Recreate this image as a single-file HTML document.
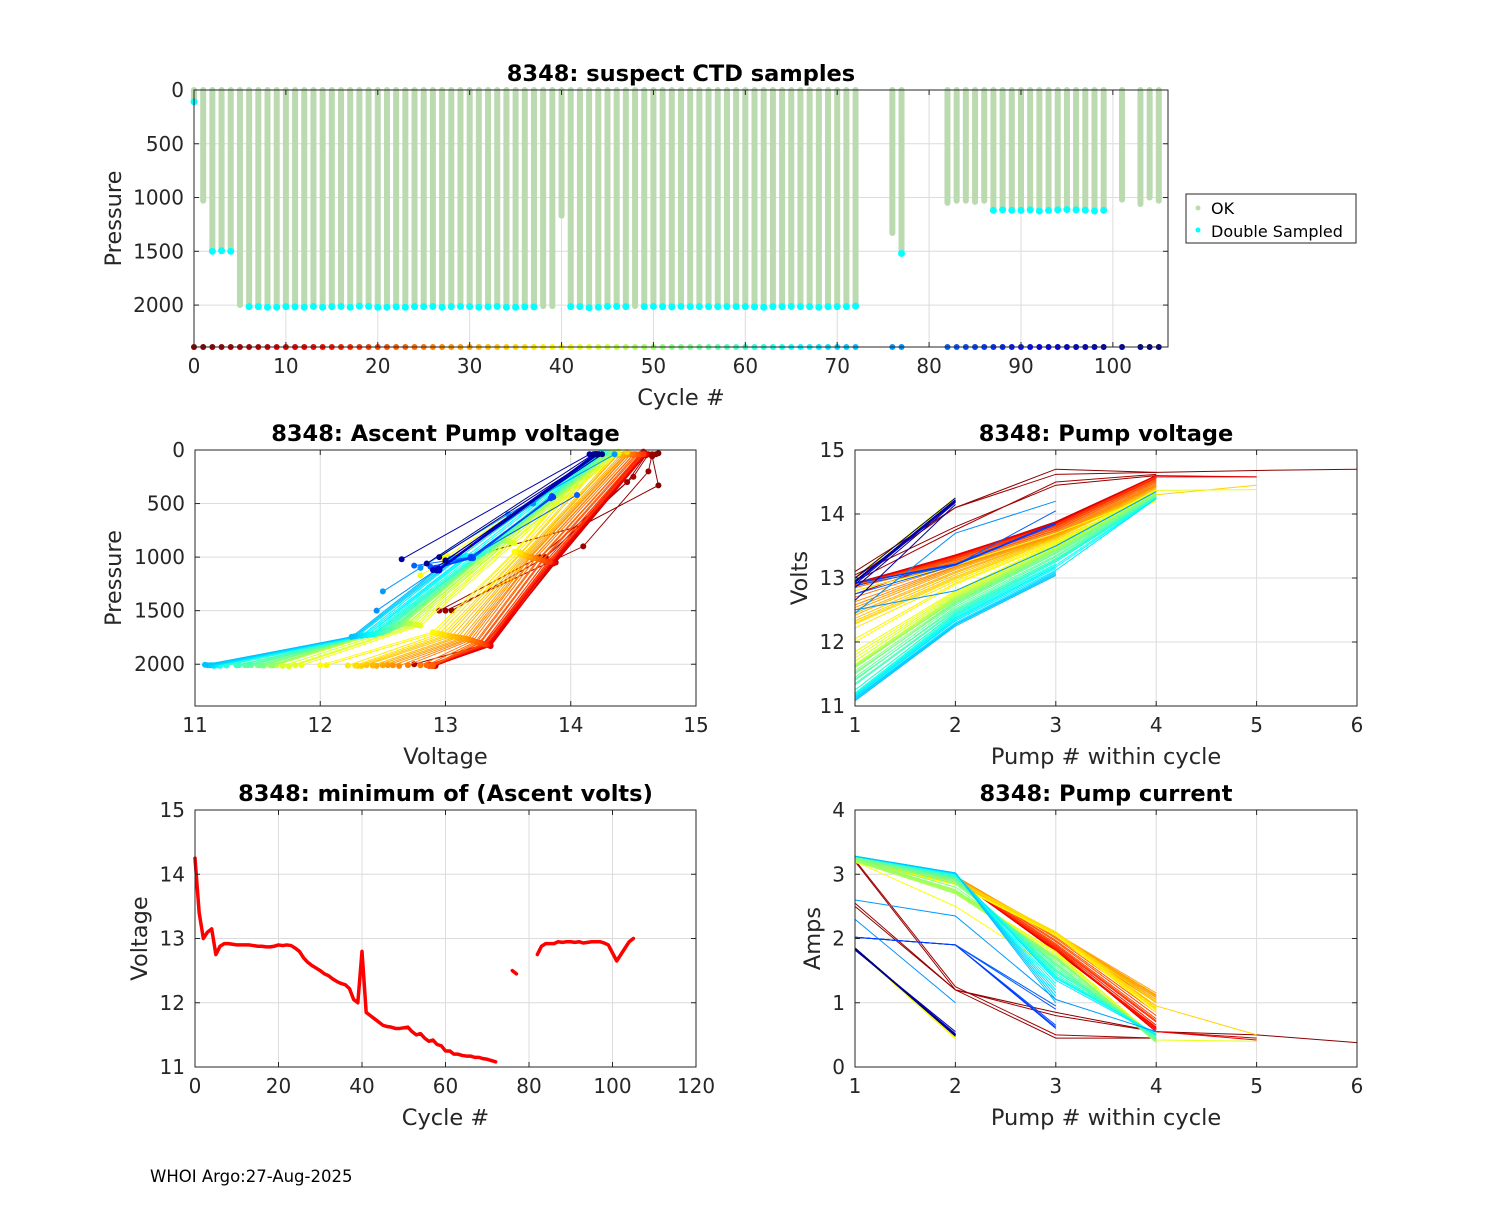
<!DOCTYPE html>
<html><head><meta charset="utf-8"><style>
html,body{margin:0;padding:0;background:#fff;}
svg text{font-family:"DejaVu Sans","Liberation Sans",sans-serif;fill:#262626;}
</style></head><body>
<svg id="fig" xmlns="http://www.w3.org/2000/svg" width="1500" height="1200" viewBox="0 0 1500 1200">
<rect x="0" y="0" width="1500" height="1200" fill="#fff"/>
<text x="150" y="1182" font-size="16.5" style="fill:#000">WHOI Argo:27-Aug-2025</text>
</svg>
<script>
// ---------- data ----------
const cycles=[0,1,2,3,4,5,6,7,8,9,10,11,12,13,14,15,16,17,18,19,20,21,22,23,24,25,26,27,28,29,30,31,32,33,34,35,36,37,38,39,40,41,42,43,44,45,46,47,48,49,50,51,52,53,54,55,56,57,58,59,60,61,62,63,64,65,66,67,68,69,70,71,72,76,77,82,83,84,85,86,87,88,89,90,91,92,93,94,95,96,97,98,99,101,103,104,105];
const maxPress=[110,1030,1500,1500,1500,2000,2010,2010,2015,2015,2010,2012,2015,2008,2015,2010,2008,2015,2005,2008,2015,2015,2012,2015,2010,2010,2008,2015,2010,2008,2010,2015,2012,2008,2015,2015,2012,2012,2010,2010,1170,2010,2010,2020,2015,2008,2008,2010,2010,2010,2008,2010,2012,2008,2010,2010,2010,2010,2010,2010,2010,2012,2015,2010,2010,2008,2010,2010,2015,2010,2010,2010,2005,1330,1520,1050,1030,1030,1040,1030,1120,1115,1120,1120,1115,1125,1120,1115,1112,1115,1118,1125,1120,1020,1060,1000,1030];
const dblPress=[110,null,1500,1495,1500,null,2015,2015,2020,2020,2015,2017,2020,2013,2020,2015,2013,2020,2010,2013,2020,2020,2017,2020,2015,2015,2013,2020,2015,2013,2015,2020,2017,2013,2020,2020,2017,2017,null,null,null,2015,2015,2025,2020,2013,2013,2015,null,2015,2013,2015,2017,2013,2015,2015,2015,2015,2015,2015,2015,2017,2020,2015,2015,2013,2015,2015,2020,2015,2015,2015,2010,null,1520,null,null,null,null,null,1120,1115,1120,1120,1115,1125,1120,1115,1112,1115,1118,1125,1120,null,null,null,null];
const minVolts=[14.25,13.4,13.0,13.1,13.15,12.75,12.88,12.92,12.92,12.91,12.9,12.9,12.9,12.9,12.89,12.88,12.88,12.87,12.87,12.88,12.9,12.89,12.9,12.89,12.85,12.8,12.7,12.63,12.58,12.54,12.5,12.45,12.42,12.37,12.33,12.3,12.28,12.22,12.05,12.0,12.8,11.85,11.8,11.75,11.7,11.65,11.63,11.62,11.6,11.6,11.61,11.62,11.55,11.5,11.52,11.45,11.4,11.42,11.35,11.33,11.25,11.25,11.2,11.2,11.18,11.17,11.17,11.15,11.15,11.13,11.12,11.1,11.08,12.5,12.45,12.75,12.88,12.92,12.92,12.92,12.95,12.94,12.95,12.95,12.94,12.95,12.93,12.94,12.95,12.95,12.95,12.93,12.9,12.65,12.85,12.95,13.0];
const pumpVolts=[
[13.0,14.25],[13.1,14.1,14.7,14.65,14.68,14.7],[13.05,13.8,14.45,14.6],[13.0,14.1,14.62,14.65],[12.95,13.75,14.5,14.62],
[12.75,13.3,13.85,14.58],[12.88,13.35,13.88,14.6],[12.92,13.36,13.86,14.6,14.58],[12.92,13.34,13.85,14.58],[12.91,13.35,13.87,14.6],
[12.9,13.33,13.84,14.57],[12.9,13.36,13.86,14.6],[12.9,13.35,13.85,14.58,14.58],[12.9,13.34,13.84,14.59],[12.89,13.33,13.83,14.57],
[12.88,13.32,13.82,14.56],[12.88,13.33,13.84,14.58],[12.87,13.3,13.8,14.55],[12.87,13.31,13.82,14.57],[12.88,13.32,13.83,14.58],
[12.9,13.3,13.8,14.55],[12.89,13.28,13.78,14.53],[12.9,13.27,13.77,14.52],[12.89,13.25,13.75,14.5],[12.85,13.24,13.74,14.5],
[12.8,13.22,13.72,14.48],[12.7,13.2,13.7,14.46],[12.63,13.18,13.7,14.45],[12.58,13.17,13.68,14.44],[12.54,13.15,13.67,14.43],
[12.5,13.13,13.66,14.42],[12.45,13.1,13.65,14.4],[12.42,13.08,13.64,14.38],[12.37,13.05,13.63,14.37],[12.33,13.02,13.62,14.35],
[12.3,13.0,13.6,14.3,14.45],[12.28,12.98,13.6,14.28],[12.22,12.95,13.58,14.25],[12.05,12.92,13.56,14.22],[12.0,12.9,13.55,14.2],
[12.8,13.2,13.7,14.3],[11.85,12.8,13.55,14.38],[11.8,12.78,13.53,14.37,14.38],[11.75,12.76,13.52,14.36],[11.7,12.74,13.5,14.35],
[11.65,12.72,13.5,14.35],[11.63,12.7,13.48,14.34],[11.62,12.7,13.47,14.33],[11.6,12.68,13.46,14.33],[11.6,12.67,13.45,14.32],
[11.61,12.66,13.44,14.32],[11.62,12.65,13.43,14.31],[11.55,12.63,13.42,14.3],[11.5,12.62,13.4,14.3],[11.52,12.6,13.4,14.3],
[11.45,12.58,13.38,14.28],[11.4,12.55,13.35,14.28],[11.42,12.52,13.33,14.27],[11.35,12.5,13.3,14.27],[11.33,12.48,13.3,14.26],
[11.25,12.46,13.28,14.26],[11.25,12.45,13.27,14.25],[11.2,12.43,13.25,14.25],[11.2,12.42,13.22],[11.18,12.4,13.2,14.25],
[11.17,12.38,13.18],[11.17,12.37,13.17,14.24],[11.15,12.35,13.15],[11.15,12.33,13.12,14.24],[11.13,12.3,13.1],
[11.12,12.28,13.08],[11.1,12.27,13.06],[11.08,12.25,13.04],[12.5,12.8,13.5,14.35],[12.45,13.7,14.2],
[12.75,13.2,14.05],[12.88,13.2,13.85],[12.92,13.22,13.85],[12.92,13.2,13.84],[12.92,13.21,13.86],
[12.95,14.2],[12.94,14.21],[12.95,14.2],[12.95,14.22],[12.94,14.2],[12.95,14.19],[12.93,14.2],[12.94,14.21],
[12.95,14.2],[12.95,14.22],[12.95,14.2],[12.93,14.19],[12.9,14.2],[12.65,14.15],[12.85,14.18],[12.95,14.22],[13.0,14.25]];
const pumpPress=[
[1000,50],[1030,700,330,60,40,30],[1500,1000,300,50],[1500,900,200,40],[1500,1000,250,40],
[2000,1820,1060,50],[2010,1820,1050,40],[2010,1830,1060,45,20],[2015,1820,1050,40],[2015,1825,1050,45],
[2010,1820,1040,40],[2012,1825,1050,35],[2015,1820,1050,40,15],[2008,1815,1045,40],[2015,1820,1050,45],
[2010,1815,1040,40],[2008,1820,1045,40],[2015,1810,1040,45],[2005,1815,1040,40],[2008,1815,1045,40],
[2015,1810,1040,40],[2015,1800,1030,45],[2012,1800,1030,40],[2015,1795,1020,45],[2010,1790,1020,40],
[2010,1780,1010,40],[2008,1775,1010,40],[2015,1770,1005,45],[2010,1765,1000,40],[2008,1760,1000,45],
[2010,1755,995,40],[2015,1750,990,45],[2012,1745,985,40],[2008,1740,980,45],[2015,1735,975,50],
[2015,1730,970,60,20],[2012,1720,960,55],[2012,1715,955,60],[2010,1710,950,55],[2010,1700,950,60],
[1170,900,500,40],[2010,1640,870,30],[2010,1635,865,30,15],[2020,1630,860,35],[2015,1625,855,30],
[2008,1620,850,30],[2008,1620,850,25],[2010,1615,845,30],[2010,1610,840,30],[2010,1610,840,25],
[2008,1620,850,30],[2010,1625,855,30],[2012,1630,860,30],[2008,1640,870,30],[2010,1650,880,30],
[2010,1660,900,30],[2010,1680,930,25],[2010,1690,940,30],[2010,1700,950,25],[2010,1705,960,30],
[2010,1710,970,30],[2012,1715,975,25],[2015,1720,980,30],[2010,1720,990],[2010,1725,985,30],
[2008,1725,995],[2010,1730,990,25],[2010,1730,1000],[2015,1735,995,30],[2010,1735,1005],
[2010,1740,1010],[2010,1740,1010],[2005,1745,1015],[1320,1100,600,40],[1500,500,40],
[1080,1000,420],[1090,1000,440],[1100,1010,430],[1110,1010,450],[1100,1000,440],
[1120,40],[1115,40],[1120,40],[1120,40],[1115,40],[1125,40],[1120,40],[1115,40],
[1112,40],[1115,40],[1118,40],[1125,40],[1120,40],[1020,40],[1060,40],[1000,40],[1030,40]];
const pumpAmps=[
[1.85,0.45],[2.5,1.2,0.85,0.55,0.5,0.38],[3.2,1.2,0.45,0.45],[2.55,1.2,0.8,0.55],[3.22,1.25,0.5,0.45],
[3.25,2.95,1.85,0.55],[3.25,2.95,1.8,0.6],[3.24,2.94,1.85,0.55,0.45],[3.25,2.95,1.82,0.58],[3.24,2.93,1.8,0.6],
[3.25,2.95,1.85,0.55],[3.24,2.94,1.83,0.6],[3.25,2.95,1.85,0.55,0.42],[3.24,2.93,1.82,0.62],[3.25,2.94,1.84,0.58],
[3.24,2.95,1.86,0.65],[3.25,2.95,1.84,0.6],[3.24,2.93,1.88,0.7],[3.25,2.94,1.86,0.65],[3.24,2.95,1.9,0.72],
[3.25,2.95,1.92,0.75],[3.24,2.96,1.95,0.8],[3.25,2.96,1.97,0.85],[3.24,2.97,2.0,0.9],[3.25,2.97,2.02,0.95],
[3.25,2.97,2.05,1.0],[3.24,2.96,2.05,1.05],[3.25,2.97,2.06,1.1],[3.24,2.96,2.07,1.12],[3.25,2.95,2.05,1.08],
[3.24,2.95,2.08,1.15],[3.25,2.94,2.06,1.1],[3.24,2.93,2.07,1.05],[3.23,2.92,2.08,1.02],[3.22,2.92,2.1,1.0],
[3.2,2.9,2.1,0.95,0.5],[3.2,2.88,2.1,0.92],[3.2,2.86,2.08,0.9],[3.19,2.85,2.06,0.88],[3.18,2.84,2.05,0.85],
[3.2,2.5,1.5,0.45],[3.22,2.75,1.8,0.45],[3.22,2.74,1.78,0.42,0.4],[3.21,2.73,1.75,0.45],[3.2,2.72,1.72,0.42],
[3.2,2.7,1.7,0.4],[3.22,2.7,1.68,0.45],[3.21,2.72,1.72,0.42],[3.2,2.7,1.7,0.38],[3.21,2.72,1.7,0.4],
[3.22,2.74,1.72,0.42],[3.23,2.76,1.7,0.4],[3.24,2.8,1.68,0.45],[3.25,2.85,1.65,0.42],[3.26,2.88,1.62,0.4],
[3.27,2.9,1.6,0.45],[3.27,2.92,1.58,0.42],[3.28,2.94,1.55,0.45],[3.28,2.95,1.52,0.48],[3.28,2.96,1.5,0.45],
[3.28,2.97,1.48,0.5],[3.28,2.98,1.45,0.48],[3.28,2.99,1.42,0.5],[3.28,3.0,1.3],[3.28,3.0,1.4,0.5],
[3.28,3.0,1.25],[3.28,3.0,1.38,0.52],[3.28,3.01,1.2],[3.28,3.01,1.35,0.5],[3.28,3.02,1.15],
[3.28,3.02,1.1],[3.28,3.02,1.05],[3.28,3.02,1.0],[2.6,2.35,1.05,0.55],[2.3,1.0],
[2.02,1.9,0.95],[2.02,1.9,0.9],[2.02,1.9,0.65],[2.02,1.9,0.6],[2.02,1.9,0.62],
[1.85,0.5],[1.84,0.5],[1.85,0.48],[1.83,0.52],[1.85,0.5],[1.84,0.49],[1.85,0.5],[1.83,0.5],
[1.85,0.51],[1.84,0.5],[1.85,0.48],[1.83,0.5],[1.84,0.5],[1.82,0.55],[1.85,0.5],[1.84,0.48],[1.85,0.5]];
const pressTicks=[0,500,1000,1500,2000];
const cycleTicks=[0,10,20,30,40,50,60,70,80,90,100];
const voltTicks=[11,12,13,14,15];
const pumpTicks=[1,2,3,4,5,6];
const cycleTicks2=[0,20,40,60,80,100,120];
const ampTicks=[0,1,2,3,4];

// ---------- helpers ----------
const NS='http://www.w3.org/2000/svg';
const svg=document.getElementById('fig');
function el(tag,attrs,parent){const e=document.createElementNS(NS,tag);for(const k in attrs)e.setAttribute(k,attrs[k]);(parent||svg).appendChild(e);return e;}
function jet(c){const t=1-c/105;const f=v=>Math.max(0,Math.min(1,v));
 const r=f(1.5-Math.abs(4*t-3)),g=f(1.5-Math.abs(4*t-2)),b=f(1.5-Math.abs(4*t-1));
 return 'rgb('+Math.round(r*255)+','+Math.round(g*255)+','+Math.round(b*255)+')';}
function makeAxes(o){
 const g=el('g',{});
 const sx=v=>o.L+(v-o.x0)/(o.x1-o.x0)*(o.R-o.L);
 const sy=o.rev?(v=>o.T+(v-o.y0)/(o.y1-o.y0)*(o.B-o.T)):(v=>o.B-(v-o.y0)/(o.y1-o.y0)*(o.B-o.T));
 const grid=el('g',{},g);
 o.xt.forEach(v=>{const x=sx(v);el('line',{x1:x,x2:x,y1:o.T,y2:o.B,stroke:'#dcdcdc','stroke-width':1},grid);});
 o.yt.forEach(v=>{const y=sy(v);el('line',{x1:o.L,x2:o.R,y1:y,y2:y,stroke:'#dcdcdc','stroke-width':1},grid);});
 const plot=el('g',{},g);
 const frame=el('g',{},g);
 el('rect',{x:o.L,y:o.T,width:o.R-o.L,height:o.B-o.T,fill:'none',stroke:'#262626','stroke-width':1},frame);
 o.xt.forEach(v=>{const x=sx(v);
  el('line',{x1:x,x2:x,y1:o.B,y2:o.B-5,stroke:'#262626'},frame);el('line',{x1:x,x2:x,y1:o.T,y2:o.T+5,stroke:'#262626'},frame);
  const t=el('text',{x:x,y:o.B+26,'font-size':20,'text-anchor':'middle'},frame);t.textContent=v;
  });
 o.yt.forEach(v=>{const y=sy(v);
  el('line',{x1:o.L,x2:o.L+5,y1:y,y2:y,stroke:'#262626'},frame);el('line',{x1:o.R,x2:o.R-5,y1:y,y2:y,stroke:'#262626'},frame);
  const t=el('text',{x:o.L-10,y:y+7,'font-size':20,'text-anchor':'end'},frame);t.textContent=v;
  });
 const tt=el('text',{x:(o.L+o.R)/2,y:o.T-9,'font-size':22.5,'font-weight':'bold','text-anchor':'middle',style:'fill:#000'},g);
 tt.textContent=o.title;
 const xl=el('text',{x:(o.L+o.R)/2,y:o.B+58,'font-size':22.5,'text-anchor':'middle'},g);
 xl.textContent=o.xl;
 const yx=o.ylx;const yc=(o.T+o.B)/2;
 const yl=el('text',{x:yx,y:yc,'font-size':22.5,'text-anchor':'middle',transform:'rotate(-90 '+yx+' '+yc+')'},g);
 yl.textContent=o.yl;
 return {sx,sy,plot};}

// ---------- top: suspect CTD samples ----------
const A1=makeAxes({name:'suspect-ctd-chart',L:194,R:1168,T:90,B:347,x0:0,x1:106,y0:0,y1:2390,rev:true,xt:cycleTicks,yt:pressTicks,title:'8348: suspect CTD samples',xl:'Cycle #',yl:'Pressure',ylx:121});
cycles.forEach((c,i)=>{const x=A1.sx(c);
 const b=el('line',{x1:x,x2:x,y1:A1.sy(0),y2:A1.sy(maxPress[i]),stroke:'#bbdab0','stroke-width':6,'stroke-linecap':'round'},A1.plot);
 });
cycles.forEach((c,i)=>{const x=A1.sx(c);
 if(dblPress[i]!==null){const d=el('circle',{cx:x,cy:A1.sy(dblPress[i]),r:3.5,fill:'#00ffff'},A1.plot);
  }
 const m=el('circle',{cx:x,cy:347,r:3,fill:jet(c)},A1.plot);
 });
const lg=el('g',{});
el('rect',{x:1186,y:194,width:170,height:49,fill:'#fff',stroke:'#262626'},lg);
el('circle',{cx:1198,cy:208,r:2.5,fill:'#bbdab0'},lg);
el('circle',{cx:1198,cy:230,r:2.5,fill:'#00ffff'},lg);
const l1=el('text',{x:1211,y:214,'font-size':16,style:'fill:#000'},lg);l1.textContent='OK';

const l2=el('text',{x:1211,y:237,'font-size':16,style:'fill:#000'},lg);l2.textContent='Double Sampled';


// ---------- ascent pump voltage ----------
const A2=makeAxes({name:'ascent-pump-voltage-chart',L:195,R:696,T:450,B:706,x0:11,x1:15,y0:0,y1:2390,rev:true,xt:voltTicks,yt:pressTicks,title:'8348: Ascent Pump voltage',xl:'Voltage',yl:'Pressure',ylx:121});
cycles.forEach((c,i)=>{const col=c===0?'#ffff00':jet(c);
 const pts=pumpVolts[i].map((v,k)=>A2.sx(v)+','+A2.sy(pumpPress[i][k])).join(' ');
 const pl=el('polyline',{points:pts,fill:'none',stroke:col,'stroke-width':1},A2.plot);
 
 pumpVolts[i].forEach((v,k)=>{const p=el('circle',{cx:A2.sx(v),cy:A2.sy(pumpPress[i][k]),r:c===0?5:3,fill:col},A2.plot);
  });});

// ---------- pump voltage ----------
const A3=makeAxes({name:'pump-voltage-chart',L:855,R:1357,T:450,B:706,x0:1,x1:6,y0:11,y1:15,rev:false,xt:pumpTicks,yt:voltTicks,title:'8348: Pump voltage',xl:'Pump # within cycle',yl:'Volts',ylx:807});
cycles.forEach((c,i)=>{const col=c===0?'#ffff00':jet(c);
 const pts=pumpVolts[i].map((v,k)=>A3.sx(k+1)+','+A3.sy(v)).join(' ');
 const pl=el('polyline',{points:pts,fill:'none',stroke:col,'stroke-width':c===0?2:1},A3.plot);
 });

// ---------- minimum ascent volts ----------
const A4=makeAxes({name:'min-ascent-volts-chart',L:195,R:696,T:810,B:1067,x0:0,x1:120,y0:11,y1:15,rev:false,xt:cycleTicks2,yt:voltTicks,title:'8348: minimum of (Ascent volts)',xl:'Cycle #',yl:'Voltage',ylx:147});
let seg=[];const segs=[];
cycles.forEach((c,i)=>{if(i>0&&c-cycles[i-1]>3){segs.push(seg);seg=[];}seg.push(A4.sx(c)+','+A4.sy(minVolts[i]));});segs.push(seg);
segs.forEach(s=>{const pl=el('polyline',{points:s.length>1?s.join(' '):s[0]+' '+s[0],fill:'none',stroke:'#ff0000','stroke-width':3.5,'stroke-linejoin':'round','stroke-linecap':'round'},A4.plot);
 });

// ---------- pump current ----------
const A5=makeAxes({name:'pump-current-chart',L:855,R:1357,T:810,B:1067,x0:1,x1:6,y0:0,y1:4,rev:false,xt:pumpTicks,yt:ampTicks,title:'8348: Pump current',xl:'Pump # within cycle',yl:'Amps',ylx:820});
cycles.forEach((c,i)=>{const col=c===0?'#ffff00':jet(c);
 const pts=pumpAmps[i].map((v,k)=>A5.sx(k+1)+','+A5.sy(v)).join(' ');
 const pl=el('polyline',{points:pts,fill:'none',stroke:col,'stroke-width':c===0?2:1},A5.plot);
 });
</script>
</body></html>
